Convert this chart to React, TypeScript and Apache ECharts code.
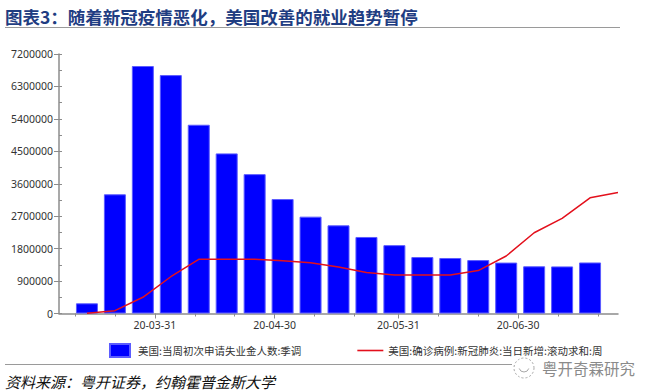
import React, { useEffect, useRef } from 'react';
import * as echarts from 'echarts';

// Weekly dates (week ending Saturday)
const barDates = ['2020-03-14', '2020-03-21', '2020-03-28', '2020-04-04', '2020-04-11', '2020-04-18', '2020-04-25', '2020-05-02', '2020-05-09', '2020-05-16', '2020-05-23', '2020-05-30', '2020-06-06', '2020-06-13', '2020-06-20', '2020-06-27', '2020-07-04', '2020-07-11', '2020-07-18'];
const initialClaims = [283000, 3307000, 6867000, 6615000, 5237000, 4442000, 3867000, 3176000, 2687000, 2446000, 2123000, 1897000, 1566000, 1540000, 1482000, 1413000, 1310000, 1307000, 1416000];

const lineDates = ['2020-03-14', '2020-03-21', '2020-03-28', '2020-04-04', '2020-04-11', '2020-04-18', '2020-04-25', '2020-05-02', '2020-05-09', '2020-05-16', '2020-05-23', '2020-05-30', '2020-06-06', '2020-06-13', '2020-06-20', '2020-06-27', '2020-07-04', '2020-07-11', '2020-07-18', '2020-07-25'];
const newCases = [5000, 78000, 450000, 1020000, 1504000, 1504000, 1504000, 1465000, 1410000, 1290000, 1140000, 1068000, 1068000, 1068000, 1190000, 1595000, 2240000, 2640000, 3210000, 3360000];

const xLabelDates = ['2020-03-31', '2020-04-30', '2020-05-31', '2020-06-30'];
const xMinorTickDates = ['2020-03-11', '2020-03-21', '2020-04-10', '2020-04-20', '2020-05-10', '2020-05-20', '2020-06-10', '2020-06-20', '2020-07-10', '2020-07-20'];
const xMin = '2020-03-07';
const xMax = '2020-07-25';

const yMin = 0;
const yMax = 7200000;
const yInterval = 900000;

const barName = '美国:当周初次申请失业金人数:季调';
const lineName = '美国:确诊病例:新冠肺炎:当日新增:滚动求和:周';
const titleText = '图表3：随着新冠疫情恶化，美国改善的就业趋势暂停';
const sourceText = '资料来源：粤开证券，约翰霍普金斯大学';
const watermarkText = '粤开奇霖研究';

const ts = (s: string) => {
  const [y, m, d] = s.split('-').map(Number);
  return new Date(y, m - 1, d).getTime();
};
const pad = (n: number) => (n < 10 ? '0' + n : '' + n);
const fmtDate = (v: number) => {
  const d = new Date(v);
  return String(d.getFullYear()).slice(2) + '-' + pad(d.getMonth() + 1) + '-' + pad(d.getDate());
};

const FONT = '"Noto Sans CJK SC", "Noto Sans", sans-serif';
const NUM_FONT = '"Noto Sans", "DejaVu Sans", sans-serif';

export default function App() {
  const ref = useRef<HTMLDivElement>(null);
  useEffect(() => {
    if (!ref.current) return;
    const chart = echarts.init(ref.current, undefined, { renderer: 'svg' });
    const axisGray = '#8c8c8c';
    chart.setOption({
      animation: false,
      backgroundColor: '#ffffff',
      textStyle: { fontFamily: FONT },
      grid: { left: 59, right: 39, top: 54, bottom: 77.5, containLabel: false },
      xAxis: [
        {
          type: 'value',
          min: ts(xMin),
          max: ts(xMax),
          axisLine: { show: true, lineStyle: { color: axisGray, width: 1.5 } },
          axisTick: { show: true, length: 5, lineStyle: { color: axisGray }, customValues: xLabelDates.map(ts) },
          axisLabel: {
            show: true,
            customValues: xLabelDates.map(ts),
            formatter: (v: number) => fmtDate(v),
            fontSize: 10.5,
            color: '#333',
            margin: 6,
            fontFamily: NUM_FONT,
          },
          splitLine: { show: false },
        },
        {
          type: 'value',
          min: ts(xMin),
          max: ts(xMax),
          position: 'bottom',
          axisLine: { show: false },
          axisTick: { show: true, length: 3, lineStyle: { color: axisGray }, customValues: xMinorTickDates.map(ts) },
          axisLabel: { show: false },
          splitLine: { show: false },
        },
      ],
      yAxis: [
        {
          type: 'value',
          min: yMin,
          max: yMax,
          interval: yInterval,
          axisLine: { show: true, lineStyle: { color: axisGray, width: 1.5 } },
          axisTick: { show: true, length: 5, lineStyle: { color: axisGray } },
          axisLabel: {
            fontSize: 10.5,
            color: '#333',
            margin: 6,
            fontFamily: NUM_FONT,
            formatter: (v: number) => String(v),
          },
          splitLine: { show: false },
        },
        {
          type: 'value',
          min: yMin,
          max: yMax,
          interval: yInterval / 2,
          position: 'left',
          axisLine: { show: false },
          axisTick: { show: true, inside: true, length: 3, lineStyle: { color: axisGray } },
          axisLabel: { show: false },
          splitLine: { show: false },
        },
      ],
      legend: {
        left: 104,
        top: 338,
        itemWidth: 26,
        itemHeight: 13,
        itemGap: 56,
        textStyle: { fontSize: 10.5, lineHeight: 12, color: '#333', fontFamily: FONT },
        data: [
          { name: barName, icon: 'path://M0,0H20V13H0Z' },
          { name: lineName, icon: 'path://M0,0H26V1.6H0Z' },
        ],
      },
      series: [
        {
          name: barName,
          type: 'bar',
          xAxisIndex: 0,
          yAxisIndex: 0,
          barWidth: 22,
          itemStyle: { color: '#0000ff', borderColor: '#5c5cff', borderWidth: 1 },
          data: barDates.map((d, i) => [ts(d), initialClaims[i]]),
        },
        {
          name: lineName,
          type: 'line',
          xAxisIndex: 0,
          yAxisIndex: 0,
          symbol: 'none',
          itemStyle: { color: '#e3101c' },
          lineStyle: { color: '#e3101c', width: 1.5 },
          data: lineDates.map((d, i) => [ts(d), newCases[i]]),
          z: 3,
        },
      ],
      graphic: [
        {
          type: 'text',
          x: 5,
          y: 16.5,
          style: {
            text: titleText,
            fontSize: 17.5,
            fontWeight: 'bold',
            fill: '#1f3d82',
            fontFamily: FONT,
            textVerticalAlign: 'middle',
          },
        },
        {
          type: 'line',
          shape: { x1: 5, y1: 27.5, x2: 620, y2: 27.5 },
          style: { stroke: '#9a9a9a', lineWidth: 1 },
        },
        {
          type: 'line',
          shape: { x1: 5, y1: 364.5, x2: 512, y2: 364.5 },
          style: { stroke: '#9a9a9a', lineWidth: 1 },
        },
        {
          type: 'text',
          x: 5,
          y: 381,
          style: {
            text: sourceText,
            fontSize: 15,
            fontStyle: 'italic',
            fontWeight: 'normal',
            fill: '#111',
            fontFamily: FONT,
            textVerticalAlign: 'middle',
          },
        },
        {
          type: 'circle',
          shape: { cx: 524, cy: 368, r: 10 },
          style: { fill: 'none', stroke: '#a8a8a8', lineWidth: 1, lineDash: [2, 2] },
        },
        {
          type: 'arc',
          shape: { cx: 524, cy: 367, r: 5, startAngle: 0.3, endAngle: Math.PI - 0.3 },
          style: { fill: 'none', stroke: '#a8a8a8', lineWidth: 1 },
        },
        {
          type: 'text',
          x: 542,
          y: 367.5,
          style: {
            text: watermarkText,
            fontSize: 15.5,
            lineHeight: 16,
            fill: '#8a8a8a',
            fontFamily: FONT,
            textVerticalAlign: 'middle',
          },
        },
      ],
    });
    return () => chart.dispose();
  }, []);
  return (
    <div
      ref={ref}
      style={{ position: 'fixed', left: 0, top: 0, width: 657, height: 391, background: '#fff' }}
    />
  );
}
